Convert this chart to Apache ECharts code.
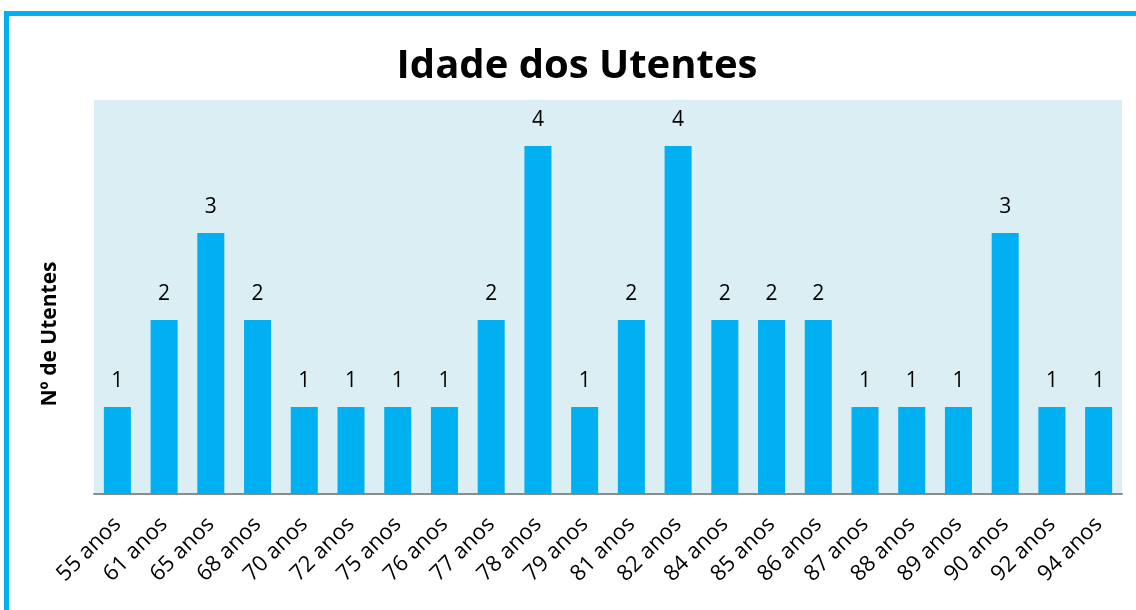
<!DOCTYPE html>
<html>
<head>
<meta charset="utf-8">
<script src="https://cdn.jsdelivr.net/npm/echarts@6/dist/echarts.min.js"></script>
<style>
  html, body { margin: 0; padding: 0; background: #fff; }
  #chart { width: 1136px; height: 610px; }
</style>
</head>
<body>
<div id="chart"></div>
<script>
const ages = ["55 anos", "61 anos", "65 anos", "68 anos", "70 anos", "72 anos", "75 anos", "76 anos",
  "77 anos", "78 anos", "79 anos", "81 anos", "82 anos", "84 anos", "85 anos", "86 anos",
  "87 anos", "88 anos", "89 anos", "90 anos", "92 anos", "94 anos"];
const utentes = [1, 2, 3, 2, 1, 1, 1, 1, 2, 4, 1, 2, 4, 2, 2, 2, 1, 1, 1, 3, 1, 1];
const yName = "Nº de Utentes";

const chart = echarts.init(document.getElementById("chart"));

const option = {
  animation: false,
  title: {
    text: "Idade dos Utentes",
    left: 572,
    top: 42,
    textAlign: "center",
    textStyle: {
      fontFamily: "Open Sans",
      fontWeight: "bold",
      fontSize: 40,
      color: "#000",
    },
  },
  graphic: [
    {
      // cyan frame, right and bottom edges fall outside the picture
      type: "rect",
      shape: { x: 6.5, y: 13.5, width: 1200, height: 700 },
      style: { fill: null, stroke: "#00B0F0", lineWidth: 5 },
      silent: true,
    },
    {
      // axis title sits lower than the plot middle in the original
      type: "text",
      x: 50,
      y: 334,
      rotation: Math.PI / 2,
      style: {
        text: yName,
        fontFamily: "Open Sans",
        fontWeight: "bold",
        fontSize: 21,
        fill: "#000",
        align: "center",
        verticalAlign: "middle",
      },
    },
  ],
  grid: {
    left: 94,
    right: 14,
    top: 100,
    bottom: 116,
    show: true,
    backgroundColor: "#DAEEF3",
    borderWidth: 0,
  },
  xAxis: {
    type: "category",
    data: ages,
    axisTick: { show: false },
    axisLine: { lineStyle: { color: "#8C8C8C", width: 2 } },
    axisLabel: {
      rotate: 45,
      interval: 0,
      margin: 27,
      fontFamily: "Open Sans",
      fontSize: 22,
      color: "#000",
    },
  },
  yAxis: {
    type: "value",
    min: 0,
    max: 4.53,
    axisLine: { show: false },
    axisTick: { show: false },
    axisLabel: { show: false },
    splitLine: { show: false },
  },
  series: [
    {
      type: "bar",
      data: utentes,
      barWidth: 27,
      itemStyle: { color: "#00B0F0" },
      label: {
        show: true,
        position: "top",
        distance: 16,
        fontFamily: "Open Sans",
        fontSize: 21,
        color: "#000",
      },
    },
  ],
};

chart.setOption(option);
</script>
</body>
</html>
